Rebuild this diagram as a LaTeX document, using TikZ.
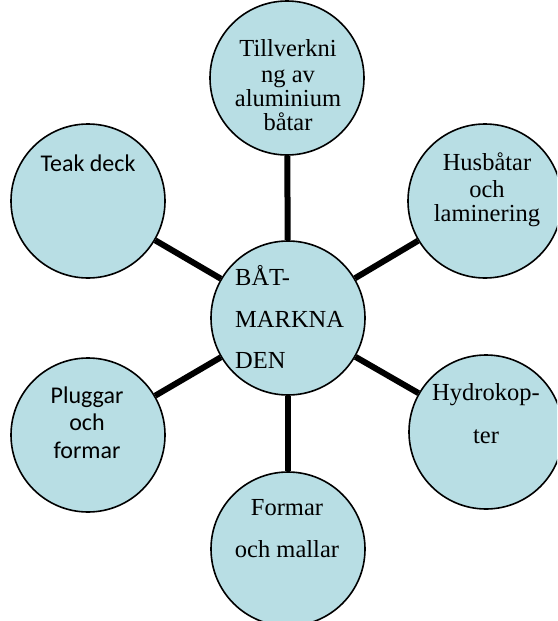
\documentclass[tikz,border=0pt]{standalone}
\usepackage{fontspec}
\setmainfont{Liberation Serif}
\newfontfamily\calibri{Carlito}
\definecolor{bubble}{RGB}{184,222,228}
\begin{document}
\begin{tikzpicture}[x=1pt,y=-1pt,
  bub/.style={circle,draw=black,line width=1.6pt,fill=bubble,minimum size=154pt,inner sep=0pt},
  link/.style={line width=6pt,black},
  ser/.style={anchor=base,inner sep=0pt,font=\fontsize{24.5}{26}\selectfont},
  serl/.style={anchor=base west,inner sep=0pt,font=\fontsize{24.5}{26}\selectfont},
  sans/.style={anchor=base,inner sep=0pt,font=\calibri\fontsize{24}{26}\selectfont}]
\useasboundingbox (0,0) rectangle (557,621);
\clip (0,0) rectangle (557,621);
\node[bub] (c) at (288,318) {};
\node[bub] (t) at (287,78) {};
\node[bub] (tl) at (88,201) {};
\node[bub] (tr) at (485,201) {};
\node[bub] (br) at (486,432) {};
\node[bub] (bl) at (88,435) {};
\node[bub] (b) at (288,549) {};
\draw[link] (c) -- (t);
\draw[link] (c) -- (tl);
\draw[link] (c) -- (tr);
\draw[link] (c) -- (br);
\draw[link] (c) -- (bl);
\draw[link] (c) -- (b);
% top
\node[ser] (t1) at (288,56) {Tillverkni};
\node[ser] (t2) at (288,82) {ng av};
\node[ser] (t3) at (288,106) {aluminium};
\node[ser] (t4) at (288,130) {båtar};
% top left
\node[sans] (tl1) at (88,171) {Teak deck};
% center
\node[serl] (c1) at (235,285) {BÅT-};
\node[serl] (c2) at (235,327) {MARKNA};
\node[serl] (c3) at (235,368) {DEN};
% top right
\node[ser] (tr1) at (487,170) {Husbåtar};
\node[ser] (tr2) at (487,197) {och};
\node[ser] (tr3) at (487,221) {laminering};
% bottom right
\node[ser] (br1) at (486,400) {Hydrokop-};
\node[ser] (br2) at (486,443) {ter};
% bottom left
\node[sans] (bl1) at (87,403) {Pluggar};
\node[sans] (bl2) at (87,430) {och};
\node[sans] (bl3) at (87,458) {formar};
% bottom
\node[ser] (b1) at (287,515) {Formar};
\node[ser] (b2) at (287,557) {och mallar};
\end{tikzpicture}
\end{document}
